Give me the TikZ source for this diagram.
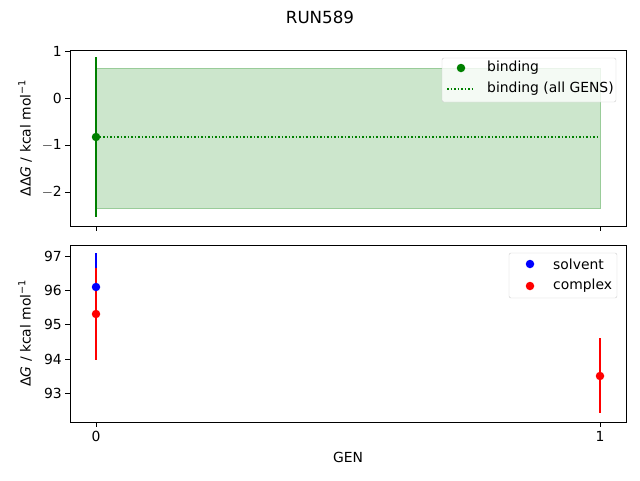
\documentclass[tikz,border=0pt]{standalone}
\usepackage{fontspec}
\setmainfont{DejaVu Sans}
\definecolor{mgreen}{HTML}{008000}
\definecolor{band}{HTML}{CCE6CC}
\definecolor{bandedge}{HTML}{99CC99}
\begin{document}
\begin{tikzpicture}[x=1pt,y=-1pt,
  lab/.style={font=\fontsize{13.9}{16}\selectfont,inner sep=0pt},
  tk/.style={line width=0.8pt},
  pt/.style={circle,inner sep=0pt,minimum size=8.5pt}]
\useasboundingbox (0,0) rectangle (640,480);
\node[lab,font=\fontsize{16.7}{19}\selectfont] (title) at (320,17) {RUN589};
% top axes
\fill[band,draw=bandedge] (96,68) rectangle (600,208);
\draw[mgreen,line width=1.5pt,dotted] (96,137) -- (600,137);
\draw[mgreen,line width=1.5pt] (96,57) -- (96,217);
\node[pt,fill=mgreen] (g0) at (96,137) {};
\draw[tk] (70,50) rectangle (626,226);
\foreach \v/\y in {1/51,0/98,{$-$1}/145,{$-$2}/192}{
  \draw[tk] (70,\y) -- (65,\y);
  \node[lab,anchor=east] at (62,\y) {\v};}
\foreach \x in {96,600}{\draw[tk] (\x,226) -- (\x,231);}
\node[lab,rotate=90] (yl1) at (25,138) {ΔΔ\textit{G} / kcal mol\textsuperscript{−1}};
% top legend
\draw[black!20,fill=white,fill opacity=0.8,rounded corners=2pt] (442,58) rectangle (616,102);
\node[pt,fill=mgreen] (lg1) at (461,68) {};
\node[lab,anchor=west] at (487,68) {binding};
\draw[mgreen,line width=1.5pt,dotted] (447,89) -- (475,89);
\node[lab,anchor=west] at (487,89) {binding (all GENS)};
% bottom axes
\draw[blue,line width=1.5pt] (96,253) -- (96,320);
\draw[red,line width=1.5pt] (96,268) -- (96,360);
\draw[red,line width=1.5pt] (600,338) -- (600,413);
\node[pt,fill=blue] (s0) at (96,287) {};
\node[pt,fill=red] (c0) at (96,314) {};
\node[pt,fill=red] (c1) at (600,376) {};
\draw[tk] (70,245) rectangle (626,422);
\foreach \v/\y in {97/256,96/290,95/324,94/359,93/393}{
  \draw[tk] (70,\y) -- (65,\y);
  \node[lab,anchor=east] at (62,\y) {\v};}
\foreach \x/\l in {96/0,600/1}{\draw[tk] (\x,422) -- (\x,427);
  \node[lab,anchor=north] at (\x,431) {\l};}
\node[lab,rotate=90] (yl2) at (25,333) {Δ\textit{G} / kcal mol\textsuperscript{−1}};
\node[lab] (xl) at (348,457) {GEN};
% bottom legend
\draw[black!20,fill=white,fill opacity=0.8,rounded corners=2pt] (509,253) rectangle (617,298);
\node[pt,fill=blue] (lb) at (530,264) {};
\node[lab,anchor=west] at (553,264) {solvent};
\node[pt,fill=red] (lr) at (530,286) {};
\node[lab,anchor=west] at (553,286) {complex};
\end{tikzpicture}
\end{document}
